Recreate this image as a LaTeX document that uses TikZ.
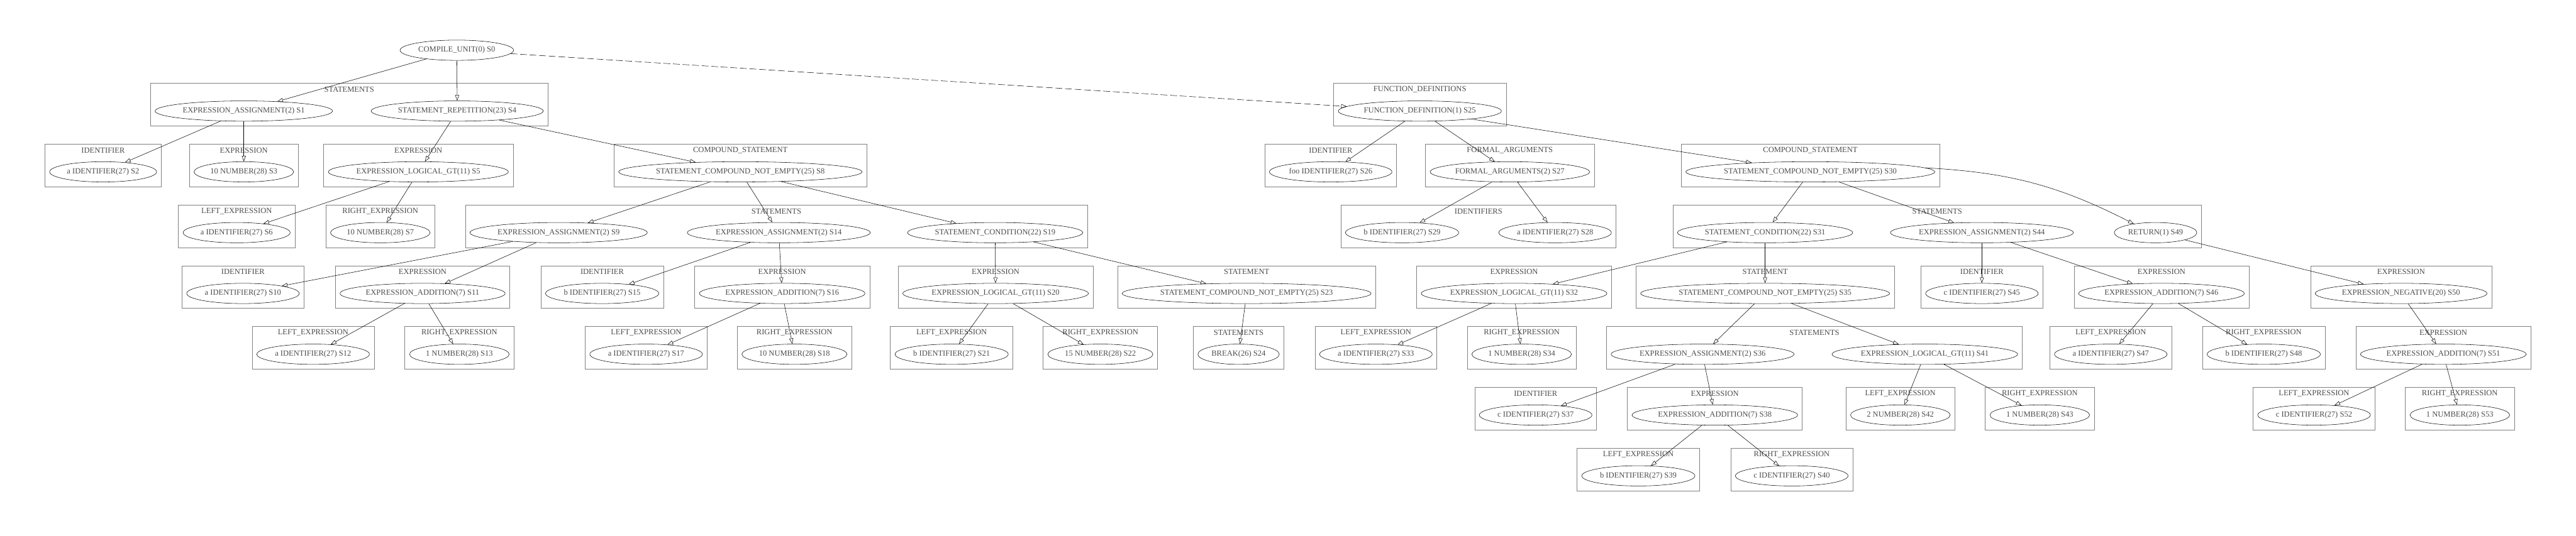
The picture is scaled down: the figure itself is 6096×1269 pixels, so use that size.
\documentclass[tikz,border=0pt]{standalone}
\usepackage{fontspec}
\setmainfont{Liberation Serif}
\usetikzlibrary{arrows.meta, shapes.geometric, fit, positioning}

\begin{document}
\begin{tikzpicture}[x=0.75pt, y=-0.75pt,
  ast/.style={draw, ellipse, line width=0.6pt, inner xsep=3pt, inner ysep=2pt,
    minimum height=36pt, text=black!70, font=\fontsize{14}{16}\selectfont},
  cluster/.style={draw=black!50, line width=0.6pt, rectangle, inner sep=8pt},
  clab/.style={anchor=center, yshift=-11.3pt, text=black!70, font=\fontsize{14}{16}\selectfont},
  edge/.style={line width=0.6pt, -{Triangle[open, length=10pt, width=7pt]}},
  link/.style={edge, dash pattern=on 12pt off 5pt}]
\useasboundingbox (0,0) rectangle (6096,1269);
% the root of the tree
\node[ast] (s0) at (1081,119) {COMPILE\_UNIT(0) S0};
% the nodes, one row after the other
\foreach \name/\x/\y/\txt in {
  s1/577/263/EXPRESSION\_ASSIGNMENT(2) S1, s4/1082/263/STATEMENT\_REPETITION(23) S4,
  s25/3360/263/FUNCTION\_DEFINITION(1) S25,
  s2/244/407/a IDENTIFIER(27) S2, s3/577/407/10 NUMBER(28) S3,
  s5/990/407/EXPRESSION\_LOGICAL\_GT(11) S5,
  s8/1752/407/STATEMENT\_COMPOUND\_NOT\_EMPTY(25) S8,
  s26/3149/407/foo IDENTIFIER(27) S26, s27/3573/407/FORMAL\_ARGUMENTS(2) S27,
  s30/4284/407/STATEMENT\_COMPOUND\_NOT\_EMPTY(25) S30,
  s6/560/551/a IDENTIFIER(27) S6, s7/900/551/10 NUMBER(28) S7,
  s9/1322/551/EXPRESSION\_ASSIGNMENT(2) S9, s14/1843/551/EXPRESSION\_ASSIGNMENT(2) S14,
  s19/2355/551/STATEMENT\_CONDITION(22) S19,
  s29/3318/551/b IDENTIFIER(27) S29, s28/3680/551/a IDENTIFIER(27) S28,
  s31/4177/551/STATEMENT\_CONDITION(22) S31, s44/4690/551/EXPRESSION\_ASSIGNMENT(2) S44,
  s49/5101/551/RETURN(1) S49,
  s10/575/695/a IDENTIFIER(27) S10, s11/1000/695/EXPRESSION\_ADDITION(7) S11,
  s15/1425/695/b IDENTIFIER(27) S15, s16/1851/695/EXPRESSION\_ADDITION(7) S16,
  s20/2356/695/EXPRESSION\_LOGICAL\_GT(11) S20,
  s23/2950/695/STATEMENT\_COMPOUND\_NOT\_EMPTY(25) S23,
  s32/3583/695/EXPRESSION\_LOGICAL\_GT(11) S32,
  s35/4177/695/STATEMENT\_COMPOUND\_NOT\_EMPTY(25) S35,
  s45/4690/695/c IDENTIFIER(27) S45, s46/5115/695/EXPRESSION\_ADDITION(7) S46,
  s50/5682/695/EXPRESSION\_NEGATIVE(20) S50,
  s12/741/839/a IDENTIFIER(27) S12, s13/1087/839/1 NUMBER(28) S13,
  s17/1529/839/a IDENTIFIER(27) S17, s18/1880/839/10 NUMBER(28) S18,
  s21/2252/839/b IDENTIFIER(27) S21, s22/2604/839/15 NUMBER(28) S22,
  s24/2931/839/BREAK(26) S24,
  s33/3256/839/a IDENTIFIER(27) S33, s34/3601/839/1 NUMBER(28) S34,
  s36/4029/839/EXPRESSION\_ASSIGNMENT(2) S36, s41/4555/839/EXPRESSION\_LOGICAL\_GT(11) S41,
  s47/4995/839/a IDENTIFIER(27) S47, s48/5357/839/b IDENTIFIER(27) S48,
  s51/5782/839/EXPRESSION\_ADDITION(7) S51,
  s37/3634/983/c IDENTIFIER(27) S37, s38/4058/983/EXPRESSION\_ADDITION(7) S38,
  s42/4497/983/2 NUMBER(28) S42, s43/4827/983/1 NUMBER(28) S43,
  s52/5476/983/c IDENTIFIER(27) S52, s53/5821/983/1 NUMBER(28) S53,
  s39/3877/1127/b IDENTIFIER(27) S39, s40/4240/1127/c IDENTIFIER(27) S40}
  \node[ast] (\name) at (\x,\y) {\txt};
% the boxes round the nodes, with their titles
\foreach \first/\rest/\txt in {
  s1/(s4)/STATEMENTS, s25//FUNCTION\_DEFINITIONS,
  s2//IDENTIFIER, s3//EXPRESSION, s5//EXPRESSION, s8//COMPOUND\_STATEMENT,
  s26//IDENTIFIER, s27//FORMAL\_ARGUMENTS, s30//COMPOUND\_STATEMENT,
  s6//LEFT\_EXPRESSION, s7//RIGHT\_EXPRESSION, s9/(s14)(s19)/STATEMENTS,
  s29/(s28)/IDENTIFIERS, s31/(s44)(s49)/STATEMENTS,
  s10//IDENTIFIER, s11//EXPRESSION, s15//IDENTIFIER, s16//EXPRESSION,
  s20//EXPRESSION, s23//STATEMENT, s32//EXPRESSION, s35//STATEMENT,
  s45//IDENTIFIER, s46//EXPRESSION, s50//EXPRESSION,
  s12//LEFT\_EXPRESSION, s13//RIGHT\_EXPRESSION, s17//LEFT\_EXPRESSION,
  s18//RIGHT\_EXPRESSION, s21//LEFT\_EXPRESSION, s22//RIGHT\_EXPRESSION,
  s24//STATEMENTS, s33//LEFT\_EXPRESSION, s34//RIGHT\_EXPRESSION,
  s36/(s41)/STATEMENTS, s47//LEFT\_EXPRESSION, s48//RIGHT\_EXPRESSION,
  s51//EXPRESSION, s37//IDENTIFIER, s38//EXPRESSION,
  s42//LEFT\_EXPRESSION, s43//RIGHT\_EXPRESSION,
  s52//LEFT\_EXPRESSION, s53//RIGHT\_EXPRESSION,
  s39//LEFT\_EXPRESSION, s40//RIGHT\_EXPRESSION}
  \node[cluster, fit/.expanded={(\first) \rest ([yshift=23pt]\first.north)},
    label={[clab]north:\txt}] (c\first) {};
% the edges of the tree
\foreach \a/\b in {s0/s1, s0/s4, s1/s2, s1/s3, s4/s5, s4/s8, s5/s6, s5/s7,
  s8/s9, s8/s14, s8/s19, s9/s10, s9/s11, s11/s12, s11/s13, s14/s15, s14/s16,
  s16/s17, s16/s18, s19/s20, s19/s23, s20/s21, s20/s22, s23/s24,
  s25/s26, s25/s27, s25/s30, s27/s29, s27/s28, s30/s31, s30/s44,
  s31/s32, s31/s35, s32/s33, s32/s34, s35/s36, s35/s41, s36/s37, s36/s38,
  s38/s39, s38/s40, s41/s42, s41/s43, s44/s45, s44/s46, s46/s47, s46/s48,
  s49/s50, s50/s51, s51/s52, s51/s53}
  \draw[edge] (\a) -- (\b);
\draw[edge] (s30) to[bend left=12] (s49);
% the link to the function definitions
\draw[link] (s0) -- (s25);
\end{tikzpicture}
\end{document}
